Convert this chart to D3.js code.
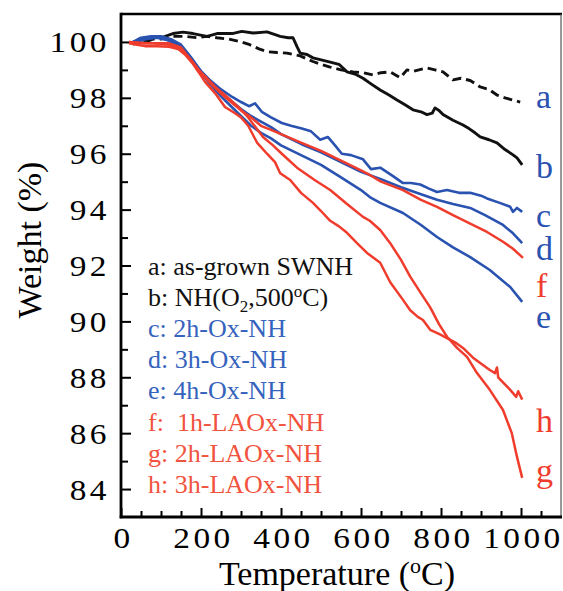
<!DOCTYPE html>
<html>
<head>
<meta charset="utf-8">
<script src="https://cdn.jsdelivr.net/npm/d3@7"></script>
<style>
  html, body { margin: 0; padding: 0; background: #ffffff; }
  svg { display: block; }
  text { font-family: "Liberation Serif", "DejaVu Serif", serif; }
</style>
</head>
<body>
<svg id="chart" width="563" height="591"></svg>
<script>
// ---------------- DATA ----------------
const seriesKeys = ["a", "b", "c", "d", "e", "f", "g", "h"];
const legendLabels = [
  "a: as-grown SWNH",
  "b: NH(O2,500oC)",
  "c: 2h-Ox-NH",
  "d: 3h-Ox-NH",
  "e: 4h-Ox-NH",
  "f:  1h-LAOx-NH",
  "g: 2h-LAOx-NH",
  "h: 3h-LAOx-NH"
];
const xTickLabels = [0, 200, 400, 600, 800, 1000];
const yTickLabels = [84, 86, 88, 90, 92, 94, 96, 98, 100];

// [temperature (°C), weight (%)]
const seriesA = [[30,99.95],[45,100.05],[60,100.0],[80,100.1],[100,100.1],[130,100.2],[160,100.2],[190,100.15],[215,100.2],[240,100.15],[270,100.1],[300,100.0],[322,99.9],[345,99.75],[365,99.65],[390,99.62],[415,99.6],[448,99.5],[480,99.3],[500,99.2],[523,99.1],[550,99.0],[580,98.93],[605,98.9],[630,98.82],[650,98.9],[673,98.93],[698,98.72],[715,99.0],[730,98.95],[765,99.07],[785,99.0],[805,98.93],[830,98.64],[850,98.7],[873,98.62],[898,98.39],[920,98.3],[940,98.1],[960,98.0],[980,97.92],[998,97.85]];
const seriesB = [[30,99.9],[45,100.1],[60,100.05],[80,100.2],[100,100.15],[130,100.3],[155,100.35],[180,100.3],[215,100.2],[240,100.3],[278,100.3],[302,100.38],[330,100.32],[365,100.36],[398,100.2],[418,100.15],[430,100.15],[440,99.83],[448,99.6],[465,99.55],[480,99.43],[503,99.35],[523,99.28],[545,99.2],[565,98.93],[585,98.85],[605,98.7],[625,98.5],[648,98.28],[670,98.1],[690,97.92],[710,97.75],[730,97.57],[750,97.5],[765,97.4],[778,97.45],[785,97.64],[795,97.55],[805,97.4],[830,97.2],[855,97.03],[870,96.9],[885,96.75],[898,96.6],[920,96.5],[940,96.39],[960,96.15],[980,95.96],[990,95.85],[1003,95.6]];
const seriesC = [[30,100.0],[50,100.15],[75,100.2],[100,100.2],[125,100.1],[150,99.9],[175,99.45],[200,98.95],[225,98.6],[250,98.3],[278,98.03],[300,97.85],[320,97.7],[335,97.8],[352,97.5],[375,97.3],[402,97.1],[425,97.0],[452,96.9],[475,96.8],[498,96.5],[517,96.6],[535,96.3],[552,96.0],[575,95.95],[605,95.8],[625,95.45],[648,95.5],[680,95.2],[705,94.95],[725,94.95],[748,94.9],[770,94.75],[790,94.63],[815,94.7],[845,94.6],[873,94.6],[900,94.5],[915,94.4],[945,94.25],[973,94.1],[980,93.92],[990,94.06],[1003,93.92]];
const seriesD = [[30,100.0],[60,100.1],[90,100.15],[120,100.05],[150,99.85],[175,99.4],[200,98.95],[225,98.55],[250,98.2],[275,97.9],[300,97.6],[325,97.35],[350,97.15],[375,96.95],[400,96.7],[450,96.35],[500,96.05],[550,95.7],[600,95.35],[648,95.1],[700,94.8],[750,94.55],[790,94.35],[830,94.2],[873,94.06],[910,93.8],[955,93.45],[980,93.15],[1003,92.8]];
const seriesE = [[30,100.0],[60,100.1],[90,100.2],[120,100.05],[150,99.8],[175,99.35],[200,98.9],[225,98.45],[250,98.05],[275,97.7],[300,97.35],[325,97.0],[350,96.75],[375,96.55],[400,96.3],[450,95.95],[500,95.6],[550,95.15],[600,94.7],[622,94.45],[648,94.24],[705,93.88],[750,93.45],[790,93.02],[830,92.65],[873,92.3],[922,91.84],[973,91.23],[1003,90.7]];
const seriesF = [[20,100.0],[60,99.95],[90,99.95],[120,99.95],[150,99.8],[175,99.35],[200,98.9],[225,98.5],[250,98.15],[275,97.85],[300,97.55],[325,97.3],[350,97.0],[375,96.85],[400,96.7],[450,96.4],[500,96.1],[550,95.75],[600,95.4],[622,95.24],[650,95.0],[705,94.7],[750,94.35],[790,94.1],[830,93.8],[873,93.5],[915,93.2],[955,92.85],[980,92.6],[1005,92.27]];
const seriesG = [[20,100.0],[50,99.95],[80,99.95],[120,99.9],[152,99.7],[175,99.35],[193,99.0],[215,98.7],[235,98.4],[268,98.0],[295,97.65],[318,97.3],[355,96.6],[380,96.3],[402,96.0],[440,95.5],[485,95.05],[523,94.7],[565,94.2],[605,93.74],[622,93.6],[648,93.27],[673,92.8],[700,92.2],[723,91.6],[750,91.0],[773,90.5],[795,89.9],[815,89.45],[840,89.05],[865,88.73],[890,88.15],[922,87.55],[955,86.83],[977,86.0],[990,85.15],[1003,84.4]];
const seriesH = [[20,99.95],[40,99.9],[60,99.85],[90,99.85],[120,99.83],[143,99.75],[160,99.55],[178,99.25],[195,98.9],[210,98.57],[235,98.17],[260,97.67],[285,97.45],[300,97.3],[318,97.0],[340,96.4],[365,96.0],[385,95.7],[398,95.3],[423,95.06],[450,94.6],[480,94.24],[500,93.95],[523,93.6],[545,93.4],[565,93.17],[590,92.8],[615,92.45],[648,92.1],[673,91.4],[705,90.77],[723,90.4],[742,90.16],[755,90.05],[773,89.7],[795,89.55],[815,89.4],[835,89.25],[855,89.05],[880,88.7],[922,88.26],[935,88.15],[940,88.35],[943,88.0],[973,87.55],[988,87.3],[993,87.5],[1003,87.2]];

// ---------------- STYLE / LAYOUT ----------------
const BLACK = "#111111", BLUE = "#2a52b0", RED = "#f03c2c";
const LEG_BLUE = "#3563bd", LEG_RED = "#f2533e";
const style = {
  a: { color: BLACK, width: 2.9, dash: "9,5" },
  b: { color: BLACK, width: 2.9, dash: null },
  c: { color: BLUE, width: 2.6, dash: null },
  d: { color: BLUE, width: 2.6, dash: null },
  e: { color: BLUE, width: 2.6, dash: null },
  f: { color: RED, width: 2.5, dash: null },
  g: { color: RED, width: 2.5, dash: null },
  h: { color: RED, width: 2.5, dash: null }
};
const legendColor = { a: "#111", b: "#111", c: LEG_BLUE, d: LEG_BLUE, e: LEG_BLUE, f: LEG_RED, g: LEG_RED, h: LEG_RED };
const endLabelColor = { a: BLUE, b: BLUE, c: BLUE, d: BLUE, e: BLUE, f: RED, g: RED, h: RED };
const endLabelY = { a: 108, b: 178, c: 227, d: 260, f: 297, e: 328, h: 432, g: 482 };

const seriesData = { a: seriesA, b: seriesB, c: seriesC, d: seriesD, e: seriesE, f: seriesF, g: seriesG, h: seriesH };

const L = 121, R = 561, T = 14, B = 517;
const svg = d3.select("#chart");
const x = d3.scaleLinear().domain([0, 1100]).range([L, R]);
const y = d3.scaleLinear().domain([83, 101]).range([B, T]);

// frame: top and right
svg.append("line").attr("x1", L).attr("x2", R + 1).attr("y1", T).attr("y2", T)
  .attr("stroke", "#000").attr("stroke-width", 2.6);
svg.append("line").attr("x1", R).attr("x2", R).attr("y1", T).attr("y2", B)
  .attr("stroke", "#555").attr("stroke-width", 1.2);

// y axis (ticks inward)
const yMinor = d3.range(85, 101, 2);
const yAxisMajor = svg.append("g").attr("transform", `translate(${L},0)`)
  .call(d3.axisLeft(y).tickValues(yTickLabels).tickSizeInner(-10).tickSizeOuter(0).tickFormat(d3.format("d")));
const yAxisMinor = svg.append("g").attr("transform", `translate(${L},0)`)
  .call(d3.axisLeft(y).tickValues(yMinor).tickSizeInner(-7).tickSizeOuter(0).tickFormat(""));
[yAxisMajor, yAxisMinor].forEach(g => {
  g.select(".domain").remove();
  g.selectAll("line").attr("stroke", "#000").attr("stroke-width", 2);
});
yAxisMajor.selectAll("text")
  .attr("x", null).attr("dy", null)
  .attr("transform", "translate(-11,10) scale(1.15,1)")
  .attr("text-anchor", "end")
  .attr("font-size", 29)
  .attr("letter-spacing", 3)
  .attr("font-family", "Liberation Serif, serif")
  .attr("fill", "#000");

// x axis (ticks inward)
const xMinor = d3.range(50, 1100, 50).filter(v => v % 200 !== 0);
const xAxisMajor = svg.append("g").attr("transform", `translate(0,${B})`)
  .call(d3.axisBottom(x).tickValues(xTickLabels).tickSizeInner(-9).tickSizeOuter(0).tickFormat(d3.format("d")));
const xAxisMinor = svg.append("g").attr("transform", `translate(0,${B})`)
  .call(d3.axisBottom(x).tickValues(xMinor).tickSizeInner(-6).tickSizeOuter(0).tickFormat(""));
[xAxisMajor, xAxisMinor].forEach(g => {
  g.select(".domain").remove();
  g.selectAll("line").attr("stroke", "#000").attr("stroke-width", 2);
});
xAxisMajor.selectAll("text")
  .attr("y", null).attr("dy", null)
  .attr("transform", "translate(2,31) scale(1.15,1)")
  .attr("text-anchor", "middle")
  .attr("font-size", 29)
  .attr("letter-spacing", 3)
  .attr("font-family", "Liberation Serif, serif")
  .attr("fill", "#000");

// axis lines (left & bottom)
svg.append("line").attr("x1", L).attr("x2", L).attr("y1", T - 1.3).attr("y2", B + 1.3)
  .attr("stroke", "#000").attr("stroke-width", 2.8);
svg.append("line").attr("x1", L - 1.3).attr("x2", R + 1).attr("y1", B).attr("y2", B)
  .attr("stroke", "#000").attr("stroke-width", 2.8);

// curves
const line = d3.line().x(d => x(d[0])).y(d => y(d[1]));
const drawOrder = ["a", "b", "c", "d", "e", "f", "g", "h"];
svg.append("g").selectAll("path").data(drawOrder).join("path")
  .attr("d", k => line(seriesData[k]))
  .attr("fill", "none")
  .attr("stroke", k => style[k].color)
  .attr("stroke-width", k => style[k].width)
  .attr("stroke-linejoin", "round")
  .attr("stroke-dasharray", k => style[k].dash);

// end labels
svg.append("g").selectAll("text").data(seriesKeys).join("text")
  .attr("x", 536)
  .attr("y", k => endLabelY[k])
  .attr("font-size", 34)
  .attr("fill", k => endLabelColor[k])
  .text(k => k);

// legend
const leg = svg.append("g");
legendLabels.forEach((lab, i) => {
  const k = seriesKeys[i];
  const t = leg.append("text")
    .attr("x", 148)
    .attr("y", 275 + i * 31.1)
    .attr("font-size", 26)
    .attr("fill", legendColor[k])
    .style("white-space", "pre");
  if (k === "b") {
    t.append("tspan").text("b: NH(O");
    t.append("tspan").attr("font-size", 17).attr("dy", 6).text("2");
    t.append("tspan").attr("dy", -6).text(",500");
    t.append("tspan").attr("font-size", 17).attr("dy", -9).text("o");
    t.append("tspan").attr("dy", 9).text("C)");
  } else {
    t.text(lab);
  }
});

// axis titles
const xt = svg.append("text")
  .attr("x", 337).attr("y", 585)
  .attr("text-anchor", "middle")
  .attr("font-size", 34).attr("fill", "#000");
xt.append("tspan").text("Temperature (");
xt.append("tspan").attr("font-size", 22).attr("dy", -12).text("o");
xt.append("tspan").attr("dy", 12).text("C)");

svg.append("text")
  .attr("transform", "translate(41,240) rotate(-90)")
  .attr("text-anchor", "middle")
  .attr("font-size", 34).attr("fill", "#000")
  .text("Weight (%)");
</script>
</body>
</html>
